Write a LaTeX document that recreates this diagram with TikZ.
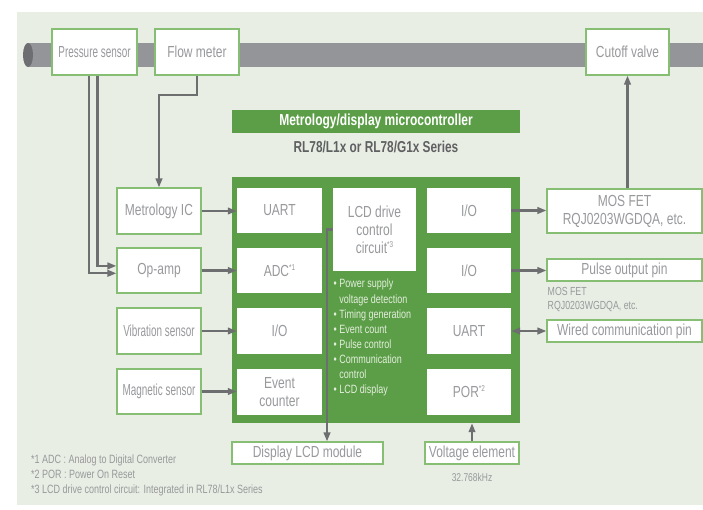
\documentclass[tikz,border=0pt]{standalone}
\usepackage{fontspec}
\setmainfont{Liberation Sans}[FakeStretch=0.75]
\newfontfamily\sensorfont{Liberation Sans}[FakeStretch=0.62]
\usetikzlibrary{arrows.meta,calc}
\definecolor{bgc}{HTML}{E8EEE4}
\definecolor{grn}{HTML}{5B9E47}
\definecolor{boxc}{HTML}{86BF73}
\definecolor{txtc}{HTML}{98999C}
\definecolor{linec}{HTML}{6D6E70}
\definecolor{pipec}{HTML}{939598}
\definecolor{capc}{HTML}{6D6E71}
\definecolor{sertc}{HTML}{5F6062}
\definecolor{bultc}{HTML}{E4EEDD}
\newcommand\sps[1]{\raisebox{0.7ex}{\fontsize{8.5}{9}\selectfont #1}}
\begin{document}
\begin{tikzpicture}[x=1pt,y=-1pt,
  lbl/.style={font=\fontsize{16}{17}\selectfont, text=txtc, align=center, inner sep=0pt},
  box/.style={lbl, draw=boxc, line width=1.1pt, fill=white},
  ibox/.style={lbl, fill=white},
  conn/.style={draw=linec, line width=2.2pt},
  arr/.style={conn, -{Triangle[length=9pt,width=6.5pt]}},
  darr/.style={conn, {Triangle[length=9pt,width=6.5pt]}-{Triangle[length=9pt,width=6.5pt]}},
  note/.style={font=\fontsize{12}{15}\selectfont, text=txtc, align=left, inner sep=0pt},
]
\useasboundingbox (0,0) rectangle (703,509);
% background
\fill[bgc] (17,12) rectangle (703,505);
% pipe
\fill[pipec] (28,43) rectangle (703,67);
\fill[capc] (28,55) ellipse [x radius=5, y radius=12];

% top boxes
\node[box, minimum width=85pt, minimum height=46pt] (press) at (94.5,52) {\sensorfont Pressure sensor};
\node[box, minimum width=84pt, minimum height=46pt] (flow) at (197,52) {Flow meter};
\node[box, minimum width=83pt, minimum height=46pt] (cutoff) at (627.5,52) {Cutoff valve};

% title
\node[fill=grn, minimum width=288pt, minimum height=23pt, inner sep=0pt, text=white,
      font=\bfseries\fontsize{16}{17}\selectfont] (title) at (376,121.5) {Metrology/display microcontroller};
\node[font=\bfseries\fontsize{15.8}{17}\selectfont, text=sertc, inner sep=0pt] (series) at (376,147) {RL78/L1x or RL78/G1x Series};

% MCU block
\node[fill=grn, minimum width=288pt, minimum height=246pt, inner sep=0pt] (mcu) at (376,300) {};

% column 1
\node[ibox, minimum width=85pt, minimum height=45pt] (uart1) at (279.5,210.5) {UART};
\node[ibox, minimum width=85pt, minimum height=45pt] (adc) at (279.5,270.5) {ADC\sps{*1}};
\node[ibox, minimum width=85pt, minimum height=46pt] (io1) at (279.5,331) {I/O};
\node[ibox, minimum width=85pt, minimum height=46pt] (evt) at (279.5,392) {Event\\[1pt]counter};
% column 2
\node[ibox, minimum width=83pt, minimum height=83pt] (lcd) at (374.5,229.5) {LCD drive\\[1pt]control\\[1pt]circuit\sps{*3}};
\node[font=\fontsize{12}{15.1}\selectfont, text=bultc, align=left, inner sep=0pt, anchor=north west] (bullets) at (333.5,279)
 {\textbullet\ Power supply\\\phantom{\textbullet\ }voltage detection\\\textbullet\ Timing generation\\\textbullet\ Event count\\\textbullet\ Pulse control\\\textbullet\ Communication\\\phantom{\textbullet\ }control\\\textbullet\ LCD display};
% column 3
\node[ibox, minimum width=84pt, minimum height=45pt] (io3a) at (469,210.5) {I/O};
\node[ibox, minimum width=84pt, minimum height=45pt] (io3b) at (469,270.5) {I/O};
\node[ibox, minimum width=84pt, minimum height=46pt] (uart3) at (469,331) {UART};
\node[ibox, minimum width=84pt, minimum height=46pt] (por) at (469,392) {POR\sps{*2}};

% left boxes
\node[box, minimum width=84pt, minimum height=46pt] (metic) at (159,211) {Metrology IC};
\node[box, minimum width=84pt, minimum height=45pt] (opamp) at (159,270.5) {Op-amp};
\node[box, minimum width=84pt, minimum height=46pt] (vib) at (159,331) {\sensorfont Vibration sensor};
\node[box, minimum width=84pt, minimum height=45pt] (mag) at (159,391.5) {\sensorfont Magnetic sensor};

% right boxes
\node[box, minimum width=155pt, minimum height=44pt] (mosfet) at (624.5,211) {MOS FET\\[1pt]RQJ0203WGDQA, etc.};
\node[box, minimum width=155pt, minimum height=22pt] (pulse) at (624.5,270) {Pulse output pin};
\node[note, font=\fontsize{11.7}{14}\selectfont, anchor=north west] (mosnote) at (547.5,287) {MOS FET\\RQJ0203WGDQA, etc.};
\node[box, minimum width=155pt, minimum height=22pt] (wired) at (624.5,331) {Wired communication pin};

% bottom boxes
\node[box, minimum width=151pt, minimum height=22pt] (display) at (307.5,453) {Display LCD module};
\node[box, minimum width=94pt, minimum height=22pt] (volt) at (472,453) {Voltage element};
\node[note, font=\fontsize{11.3}{12}\selectfont] (freq) at (472,477) {32.768kHz};

% footnotes
\node[note, anchor=north west] (foot) at (31,454.5)
 {*1 ADC : Analog to Digital Converter\\*2 POR : Power On Reset\\*3 LCD drive control circuit: Integrated in RL78/L1x Series};

% connectors
\coordinate (fmk) at (159,95);
\draw[arr] (flow.south) |- (fmk) -- (metic.north);
\draw[arr] ([xshift=-5.5pt]press.south) |- ([yshift=-2.8pt]opamp.west);
\draw[arr] ([xshift=3pt]press.south) |- ([yshift=4.6pt]opamp.west);
\draw[arr] (metic.east) -- (uart1.west |- metic.east);
\draw[arr] (opamp.east) -- (adc.west);
\draw[arr] (vib.east) -- (io1.west);
\draw[arr] (mag.east) -- (evt.west |- mag.east);
\draw[arr] (io3a.east) -- (mosfet.west |- io3a.east);
\draw[arr] (io3b.east) -- (pulse.west |- io3b.east);
\draw[darr] (uart3.east) -- (wired.west);
\draw[arr] (cutoff.south |- mosfet.north) -- (cutoff.south);
\coordinate (lcdk) at (327,229.5);
\draw[arr] (lcd.west) -- (lcdk) -- (lcdk |- display.north);
\draw[arr] (volt.north) -- (volt.north |- mcu.south);
\end{tikzpicture}
\end{document}
